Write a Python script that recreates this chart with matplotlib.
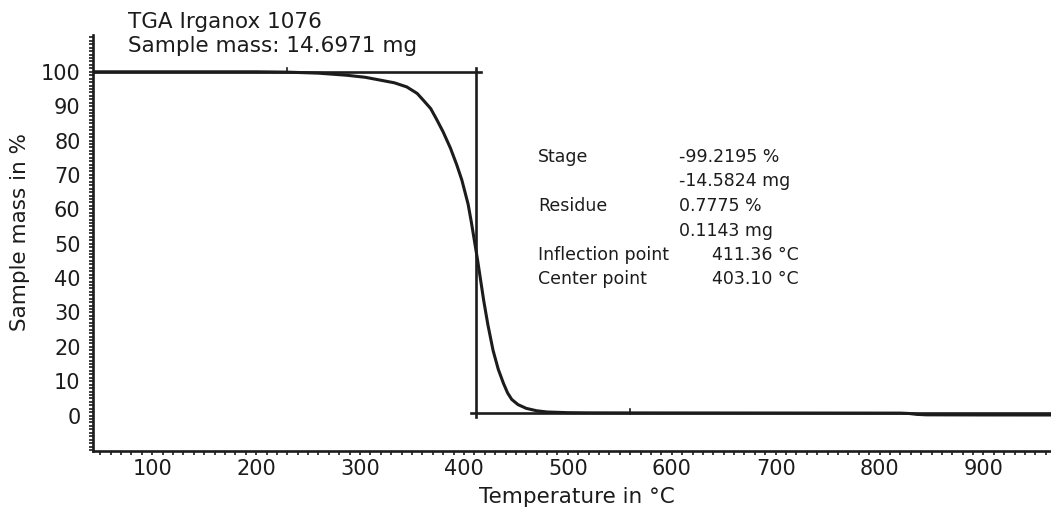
import matplotlib
matplotlib.use("Agg")
import matplotlib.pyplot as plt
from matplotlib.ticker import MultipleLocator

plt.rcParams['font.family'] = ['DejaVu Sans']

# --- TGA curve ---
temp_c = [43, 100, 200, 230, 260, 287, 305, 319, 333, 345, 355, 361, 368, 374,
          380, 387, 393, 398, 404, 407, 410, 413, 416, 419, 423, 428, 433, 438,
          442, 446, 452, 460, 470, 480, 500, 520, 560, 650, 750, 820, 828, 836,
          845, 900, 965]
mass_pct = [100, 100, 100, 99.9, 99.6, 99.0, 98.4, 97.6, 96.8, 95.6, 93.7, 91.7,
            89.3, 86.0, 82.5, 77.8, 73.0, 68.5, 61.5, 56.5, 51.0, 45.5, 39.5,
            33.5, 26.5, 19.0, 13.5, 9.4, 6.6, 4.7, 3.2, 2.1, 1.4, 1.05, 0.85,
            0.80, 0.78, 0.76, 0.74, 0.72, 0.62, 0.35, 0.22, 0.18, 0.17]

# --- step evaluation ---
start_level = 100.0
residue_pct = 0.7775
inflection_c = 411.36
eval_limits = [230, 560]

title_lines = ["TGA Irganox 1076", "Sample mass: 14.6971 mg"]
result_labels = ["Stage", "", "Residue", "", "Inflection point", "Center point"]
result_values = ["-99.2195 %", "-14.5824 mg", "0.7775 %", "0.1143 mg",
                 "411.36 °C", "403.10 °C"]

x_ticks = [100, 200, 300, 400, 500, 600, 700, 800, 900]
y_ticks = [0, 10, 20, 30, 40, 50, 60, 70, 80, 90, 100]

ink = "#1c1c1c"
W, H = 1051, 513

fig = plt.figure(figsize=(W / 100, H / 100), dpi=100)
ax = fig.add_axes([93 / W, 62 / H, 958 / W, 416 / H])

ax.plot(temp_c, mass_pct, color=ink, lw=2.2, solid_capstyle="round", zorder=3)

# step construction lines
xmin, xmax = 43, 965
ax.plot([xmin, inflection_c + 5], [start_level, start_level], color=ink, lw=1.9)
ax.plot([inflection_c, inflection_c], [start_level + 1.2, residue_pct - 1.3], color=ink, lw=1.9)
ax.plot([inflection_c - 5, xmax], [residue_pct, residue_pct], color=ink, lw=1.9)
ax.plot([eval_limits[0]] * 2, [start_level, start_level + 1.1], color=ink, lw=1.2)
ax.plot([eval_limits[1]] * 2, [residue_pct - 0.3, residue_pct + 1.1], color=ink, lw=1.2)

ax.set_xlim(xmin, xmax)
ax.set_ylim(-10.3, 110.7)
ax.set_xticks(x_ticks)
ax.set_yticks(y_ticks)
ax.xaxis.set_minor_locator(MultipleLocator(10))
ax.yaxis.set_minor_locator(MultipleLocator(1))

for s in ["top", "right"]:
    ax.spines[s].set_visible(False)
for s in ["left", "bottom"]:
    ax.spines[s].set_linewidth(1.9)
    ax.spines[s].set_color(ink)

ax.tick_params(which="both", direction="out", length=3, width=1.2, color=ink)
ax.tick_params(axis="x", labelsize=15, pad=3, labelcolor=ink)
ax.tick_params(axis="y", labelsize=15, pad=6, labelcolor=ink)

# axis titles
fig.text(20 / W, 1 - 232 / H, "Sample mass in %", rotation=90, ha="center",
         va="center", fontsize=15.5, color=ink)
fig.text(577 / W, 1 - 497 / H, "Temperature in °C", ha="center", va="center",
         fontsize=15.5, color=ink)

# header
fig.text(128 / W, 1 - 28 / H, title_lines[0], ha="left", va="baseline",
         fontsize=15.5, color=ink)
fig.text(128 / W, 1 - 52 / H, title_lines[1], ha="left", va="baseline",
         fontsize=15.5, color=ink)

# results block
for i, (lab, val) in enumerate(zip(result_labels, result_values)):
    yb = 1 - (162 + 24.5 * i) / H
    fig.text(538 / W, yb, lab, ha="left", va="baseline", fontsize=12.5, color=ink)
    vx = 712 if "°C" in val else 679
    fig.text(vx / W, yb, val, ha="left", va="baseline", fontsize=12.5, color=ink)

fig.savefig("out.png", dpi=100, facecolor="white")
